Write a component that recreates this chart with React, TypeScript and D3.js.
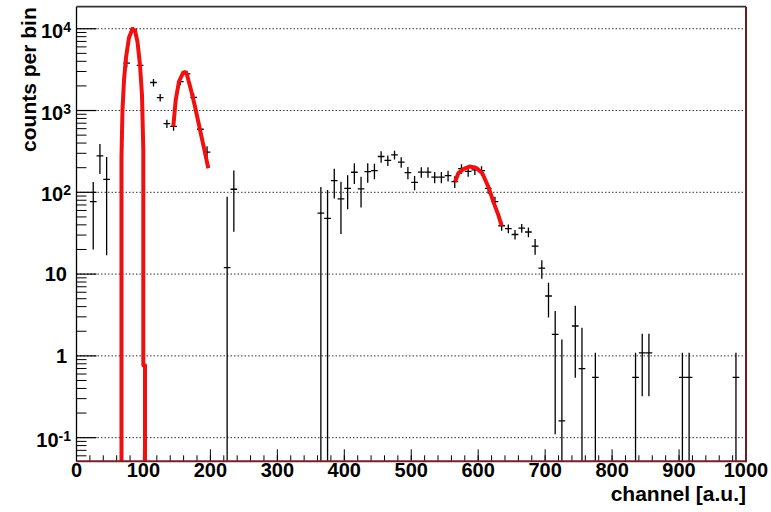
import * as d3 from "d3";
import React from "react";

// histogram bins: centre channel, counts per bin, error
const binCenters = [25, 35, 45, 75, 85, 95, 115, 125, 135, 145, 155, 165, 175, 185, 195, 225, 235,
  365, 375, 385, 395, 405, 415, 425, 435, 445, 455, 465, 475, 485, 495, 505, 515, 525, 535, 545, 555,
  565, 575, 585, 595, 605, 615, 625, 635, 645, 655, 665, 675, 685, 695, 705, 715, 725, 745, 755, 775,
  835, 845, 855, 905, 915, 985];
const binCounts = [77, 279, 144, 3800, 9800, 3560, 2200, 1440, 690, 640, 2260, 2800, 1450, 590, 310, 12, 109,
  55.5, 48, 139, 83, 112, 176, 110, 179, 184, 274, 246, 287, 234, 174, 132, 177, 177, 153, 153, 160,
  135, 195, 180, 188, 184, 112, 77, 39, 36, 30.5, 36.5, 32.7, 22, 11.8, 5.4, 1.83, 0.16, 2.32, 0.7, 0.545,
  0.545, 1.09, 1.09, 0.545, 0.545, 0.545];
const binErrors = [57, 112, 127, 450, 700, 420, 230, 150, 80, 75, 220, 260, 160, 80, 55, 76, 76,
  61, 59, 55, 52, 50, 50, 45, 48, 40, 44, 36, 36, 34, 30, 26, 26, 26, 24, 24, 24,
  22, 26, 25, 25, 25, 16, 11, 5, 4.5, 4, 4.5, 4.5, 4.8, 3, 2.45, 1.72, 1.43, 1.78, 1.5, 0.545,
  0.545, 0.77, 0.77, 0.545, 0.545, 0.545];
const binWidth = 10;

const fit1: [number, number][] = [[67.2, 0.0001], [67.2, 271], [68.7, 1020], [71, 2380], [73.9, 4420],
  [78.4, 7760], [83.6, 10000], [87.4, 9450], [91.1, 6930], [94.8, 3630], [97.8, 1556], [99.8, 330],
  [99.8, 0.77], [102.3, 0.77], [102.3, 0.0001]];
const fit2: [number, number][] = [[144.6, 637], [148.2, 1350], [153.1, 2265], [159.5, 2920], [162, 2950],
  [164.6, 2810], [171, 1790], [177, 1120], [184.5, 581], [191, 330], [196.9, 197]];
const fit3: [number, number][] = [[565.4, 135], [570.3, 171], [577.8, 192], [587.8, 207], [597.8, 197],
  [606.1, 171], [615.1, 117], [622.6, 77], [630, 53], [635.1, 38.8]];

const yDecades = [0.1, 1, 10, 100, 1000, 10000];
const yTickLabels = [["10", "-1"], ["1", ""], ["10", ""], ["10", "2"], ["10", "3"], ["10", "4"]];
const xTickValues = [0, 100, 200, 300, 400, 500, 600, 700, 800, 900, 1000];

const W = 771, H = 512;
const left = 76.5, right = 746, top = 6.7, bottom = 461.3;
const font = "'Liberation Sans', Arial, sans-serif";

export default function App() {
  const x = d3.scaleLinear().domain([0, 1000]).range([left, right]);
  const y = d3.scaleLog().domain([0.0514, 18600]).range([bottom, top]).clamp(true);
  const yMin = y.domain()[0];

  const line = d3.line<[number, number]>().x(d => x(d[0])).y(d => y(d[1]));

  const yMinor = y.ticks().filter(t => Math.abs(Math.log10(t) - Math.round(Math.log10(t))) > 1e-6);
  const xMinor = d3.range(0, 1001, 20);

  return (
    <svg width={W} height={H} style={{ position: "absolute", left: 0, top: 0, background: "#fff" }}
      fontFamily={font} fontWeight="bold">
      <defs>
        <clipPath id="plot"><rect x={left} y={top} width={right - left} height={bottom - top} /></clipPath>
      </defs>
      <rect x={0} y={0} width={W} height={H} fill="#fff" />
      {/* grid */}
      {yDecades.map(d => (
        <line key={"g" + d} x1={left} x2={right} y1={y(d)} y2={y(d)} stroke="#333" strokeWidth={1}
          strokeDasharray="1.5,2" />
      ))}
      {/* y ticks */}
      {yMinor.map(t => (
        <line key={"ym" + t} x1={left} x2={left + 10} y1={y(t)} y2={y(t)} stroke="#000" strokeWidth={1} />
      ))}
      {yDecades.map(d => (
        <line key={"yM" + d} x1={left} x2={left + 20} y1={y(d)} y2={y(d)} stroke="#000" strokeWidth={1.2} />
      ))}
      {/* x ticks */}
      {xMinor.map(t => (
        <line key={"xm" + t} x1={x(t)} x2={x(t)} y1={bottom} y2={bottom - 6} stroke="#000" strokeWidth={1} />
      ))}
      {xTickValues.map(t => (
        <line key={"xM" + t} x1={x(t)} x2={x(t)} y1={bottom} y2={bottom - 12} stroke="#000" strokeWidth={1} />
      ))}
      {/* data crosses */}
      <g clipPath="url(#plot)" stroke="#000" strokeWidth={1.3}>
        {binCenters.map((c, i) => {
          const v = binCounts[i], e = binErrors[i];
          const lo = v - e > yMin ? y(v - e) : bottom;
          return (
            <g key={"b" + c}>
              <line x1={x(c - binWidth / 2)} x2={x(c + binWidth / 2)} y1={y(v)} y2={y(v)} />
              <line x1={x(c)} x2={x(c)} y1={y(v + e)} y2={lo} />
            </g>
          );
        })}
      </g>
      {/* fits */}
      <g clipPath="url(#plot)" fill="none" stroke="#f01010" strokeWidth={4} strokeLinejoin="round">
        {[fit1, fit2, fit3].map((f, i) => <path key={"f" + i} d={line(f) || ""} />)}
      </g>
      {/* frame */}
      <line x1={left} x2={right} y1={top} y2={top} stroke="#333" strokeWidth={1.8} />
      <line x1={left} x2={left} y1={top} y2={bottom} stroke="#000" strokeWidth={1.3} />
      <line x1={right} x2={right} y1={top} y2={bottom + 1} stroke="#6e1a26" strokeWidth={2} />
      <line x1={left} x2={right} y1={bottom} y2={bottom} stroke="#7a1f2a" strokeWidth={2} />
      {/* y tick labels */}
      {yDecades.map((d, i) => {
        const [base, sup] = yTickLabels[i];
        return sup ? (
          <text key={"yl" + d} x={71} y={y(d) + 9} textAnchor="end" fontSize={20}>
            {base}<tspan fontSize={14} dy={-6}>{sup}</tspan>
          </text>
        ) : (
          <text key={"yl" + d} x={67} y={y(d) + 7} textAnchor="end" fontSize={20}>{base}</text>
        );
      })}
      {/* x tick labels */}
      {xTickValues.map(t => (
        <text key={"xl" + t} x={x(t)} y={477} textAnchor="middle" fontSize={20}>{t}</text>
      ))}
      <text x={right} y={501} textAnchor="end" fontSize={21}>channel [a.u.]</text>
      <text transform={`translate(36,${top + 0.5}) rotate(-90)`} textAnchor="end" fontSize={21}>counts per bin</text>
    </svg>
  );
}
